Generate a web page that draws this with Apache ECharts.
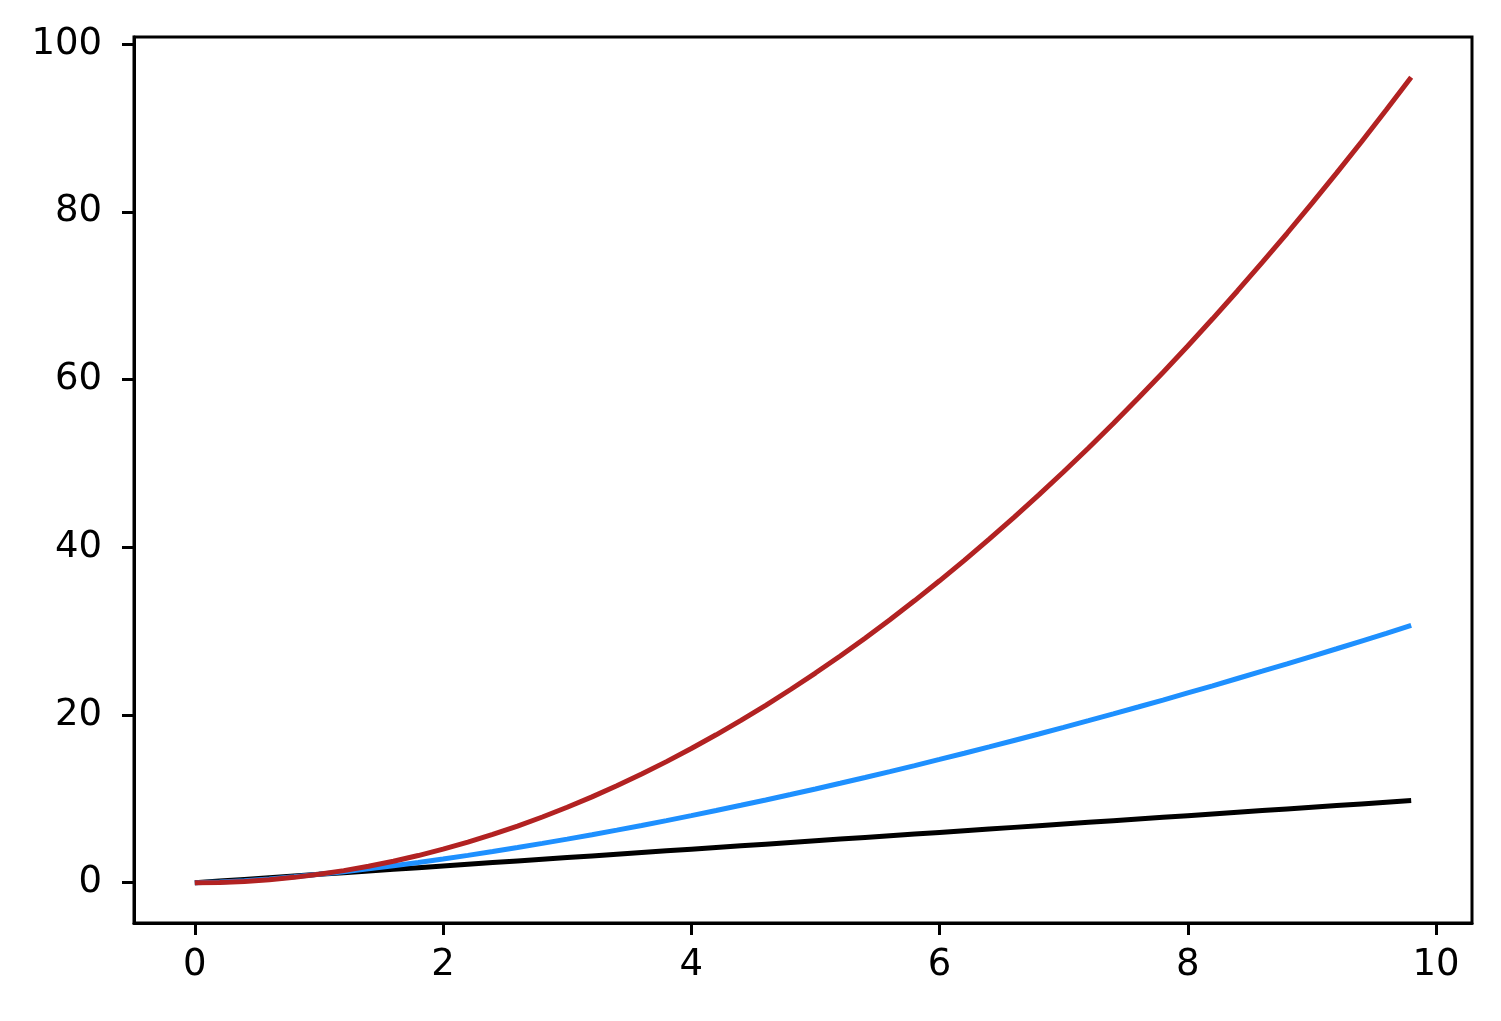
<!DOCTYPE html>
<html lang="en">
<head>
<meta charset="UTF-8">
<title>chart</title>
<script src="https://cdn.jsdelivr.net/npm/echarts@6/dist/echarts.min.js"></script>
<style>
  html, body { margin: 0; padding: 0; background: #fff; }
  #main { width: 1501px; height: 1021px; }
</style>
</head>
<body>
<div id="main"></div>
<script type="text/javascript">
// values
var xValues = [0, 0.2, 0.4, 0.6, 0.8, 1.0, 1.2, 1.4, 1.6, 1.8,
               2.0, 2.2, 2.4, 2.6, 2.8, 3.0, 3.2, 3.4, 3.6, 3.8,
               4.0, 4.2, 4.4, 4.6, 4.8, 5.0, 5.2, 5.4, 5.6, 5.8,
               6.0, 6.2, 6.4, 6.6, 6.8, 7.0, 7.2, 7.4, 7.6, 7.8,
               8.0, 8.2, 8.4, 8.6, 8.8, 9.0, 9.2, 9.4, 9.6, 9.8];
var blackValues = [0, 0.2, 0.4, 0.6, 0.8, 1.0, 1.2, 1.4, 1.6, 1.8,
                   2.0, 2.2, 2.4, 2.6, 2.8, 3.0, 3.2, 3.4, 3.6, 3.8,
                   4.0, 4.2, 4.4, 4.6, 4.8, 5.0, 5.2, 5.4, 5.6, 5.8,
                   6.0, 6.2, 6.4, 6.6, 6.8, 7.0, 7.2, 7.4, 7.6, 7.8,
                   8.0, 8.2, 8.4, 8.6, 8.8, 9.0, 9.2, 9.4, 9.6, 9.8];
var blueValues = [0, 0.09, 0.25, 0.46, 0.72, 1.0, 1.31, 1.66, 2.02, 2.41,
                  2.83, 3.26, 3.72, 4.19, 4.69, 5.2, 5.72, 6.27, 6.83, 7.41,
                  8.0, 8.61, 9.23, 9.87, 10.52, 11.18, 11.86, 12.55, 13.25, 13.97,
                  14.7, 15.44, 16.19, 16.96, 17.73, 18.52, 19.32, 20.13, 20.95, 21.78,
                  22.63, 23.48, 24.35, 25.22, 26.1, 27.0, 27.9, 28.82, 29.74, 30.68];
var redValues = [0, 0.04, 0.16, 0.36, 0.64, 1.0, 1.44, 1.96, 2.56, 3.24,
                 4.0, 4.84, 5.76, 6.76, 7.84, 9.0, 10.24, 11.56, 12.96, 14.44,
                 16.0, 17.64, 19.36, 21.16, 23.04, 25.0, 27.04, 29.16, 31.36, 33.64,
                 36.0, 38.44, 40.96, 43.56, 46.24, 49.0, 51.84, 54.76, 57.76, 60.84,
                 64.0, 67.24, 70.56, 73.96, 77.44, 81.0, 84.64, 88.36, 92.16, 96.04];
var xTicks = [0, 2, 4, 6, 8, 10];
var yTicks = [0, 20, 40, 60, 80, 100];

function pairs(xs, ys) {
    var out = [];
    for (var i = 0; i < xs.length; i++) {
        out.push([xs[i], ys[i]]);
    }
    return out;
}

var myChart = echarts.init(document.getElementById('main'));

var axisCommon = {
    type: 'value',
    splitLine: { show: false },
    axisLine: { show: true, onZero: false, lineStyle: { color: '#000', width: 3 } },
    axisTick: { show: true, inside: false, length: 12, lineStyle: { color: '#000', width: 3 } },
    axisLabel: { color: '#000', fontSize: 37, fontFamily: 'DejaVu Sans' }
};

myChart.setOption({
    animation: false,
    backgroundColor: '#fff',
    grid: { left: 134, right: 29, top: 37, bottom: 98, containLabel: false,
            show: true, borderColor: '#000', borderWidth: 3 },
    xAxis: echarts.util.merge({
        min: -0.49,
        max: 10.29,
        axisTick: { customValues: xTicks },
        axisLabel: { customValues: xTicks, margin: 24 }
    }, axisCommon),
    yAxis: echarts.util.merge({
        min: -4.802,
        max: 100.842,
        axisTick: { customValues: yTicks },
        axisLabel: { customValues: yTicks, margin: 32 }
    }, axisCommon),
    series: [
        { name: 'x', type: 'line', showSymbol: false, symbol: 'none',
          lineStyle: { color: '#000000', width: 5 }, data: pairs(xValues, blackValues) },
        { name: 'x^1.5', type: 'line', showSymbol: false, symbol: 'none',
          lineStyle: { color: '#1e90ff', width: 5 }, data: pairs(xValues, blueValues) },
        { name: 'x^2', type: 'line', showSymbol: false, symbol: 'none',
          lineStyle: { color: '#b22222', width: 5 }, data: pairs(xValues, redValues) }
    ]
});
</script>
</body>
</html>
